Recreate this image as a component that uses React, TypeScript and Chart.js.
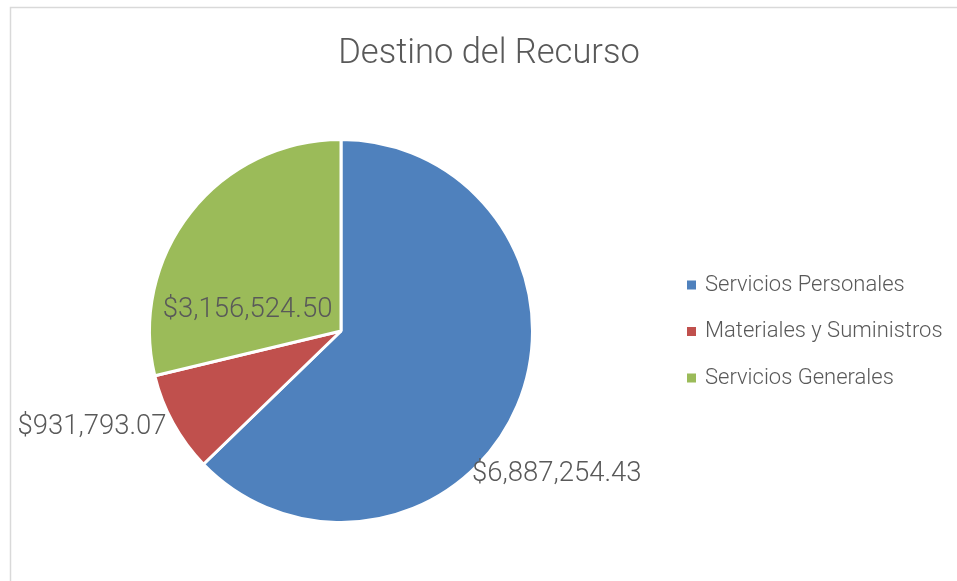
import React, { useEffect, useRef } from "react";
import { Chart, registerables } from "chart.js";

Chart.register(...registerables);

const categories: string[] = ["Servicios Personales", "Materiales y Suministros", "Servicios Generales"];
const values: number[] = [6887254.43, 931793.07, 3156524.5];
const valueLabels: string[] = ["$6,887,254.43", "$931,793.07", "$3,156,524.50"];
const colors: string[] = ["#4F81BD", "#C0504D", "#9BBB59"];
const chartTitle = "Destino del Recurso";

const TEXT = "#595959";
const FONT = "Roboto, 'Open Sans', sans-serif";

// label placement (relative to radius), align
const labelPlacement: { dx: number; dy: number; align: CanvasTextAlign }[] = [
  { dx: 0.689, dy: 0.755, align: "left" },
  { dx: -0.918, dy: 0.508, align: "right" },
  { dx: -0.045, dy: -0.108, align: "right" },
];

const decorPlugin = {
  id: "decor",
  beforeDraw(chart: any) {
    const ctx = chart.ctx as CanvasRenderingContext2D;
    ctx.save();
    ctx.fillStyle = "#ffffff";
    ctx.fillRect(0, 0, chart.width, chart.height);
    ctx.strokeStyle = "#d9d9d9";
    ctx.lineWidth = 1.5;
    ctx.beginPath();
    ctx.moveTo(10.5, chart.height);
    ctx.lineTo(10.5, 7.5);
    ctx.lineTo(chart.width, 7.5);
    ctx.stroke();
    // title
    ctx.fillStyle = TEXT;
    ctx.font = `300 34.5px ${FONT}`;
    ctx.textAlign = "center";
    ctx.textBaseline = "middle";
    ctx.fillText(chartTitle, 489, 54);
    // legend
    const labels = chart.data.labels as string[];
    const bg = chart.data.datasets[0].backgroundColor as string[];
    ctx.font = `300 22px ${FONT}`;
    ctx.textAlign = "left";
    labels.forEach((l, i) => {
      const y = 285 + i * 46.5;
      ctx.fillStyle = bg[i];
      ctx.fillRect(687, y - 4.5, 9, 9);
      ctx.fillStyle = TEXT;
      ctx.fillText(l, 705, y);
    });
    ctx.restore();
  },
  afterDatasetsDraw(chart: any) {
    const ctx = chart.ctx as CanvasRenderingContext2D;
    const meta = chart.getDatasetMeta(0);
    ctx.save();
    ctx.fillStyle = TEXT;
    ctx.font = `300 27.5px ${FONT}`;
    ctx.textBaseline = "middle";
    meta.data.forEach((arc: any, i: number) => {
      const p = labelPlacement[i];
      const r = 190;
      ctx.textAlign = p.align;
      ctx.fillText(valueLabels[i], arc.x + p.dx * r, arc.y + p.dy * r);
    });
    ctx.restore();
  },
};

export default function App() {
  const ref = useRef<HTMLCanvasElement | null>(null);
  useEffect(() => {
    document.body.style.margin = "0";
    const chart = new Chart(ref.current as HTMLCanvasElement, {
      type: "pie",
      data: {
        labels: categories,
        datasets: [
          {
            data: values,
            backgroundColor: colors,
            borderColor: "#ffffff",
            borderWidth: 3,
            hoverOffset: 0,
          },
        ],
      },
      options: {
        animation: false,
        responsive: false,
        maintainAspectRatio: false,
        layout: { padding: { left: 148, right: 423, top: 138, bottom: 57 } },
        plugins: {
          legend: { display: false },
          title: { display: false },
          tooltip: { enabled: false },
        },
      },
      plugins: [decorPlugin],
    });
    return () => chart.destroy();
  }, []);
  return (
    <div style={{ position: "absolute", left: 0, top: 0, width: 957, height: 581 }}>
      <canvas ref={ref} width={957} height={581} />
    </div>
  );
}
